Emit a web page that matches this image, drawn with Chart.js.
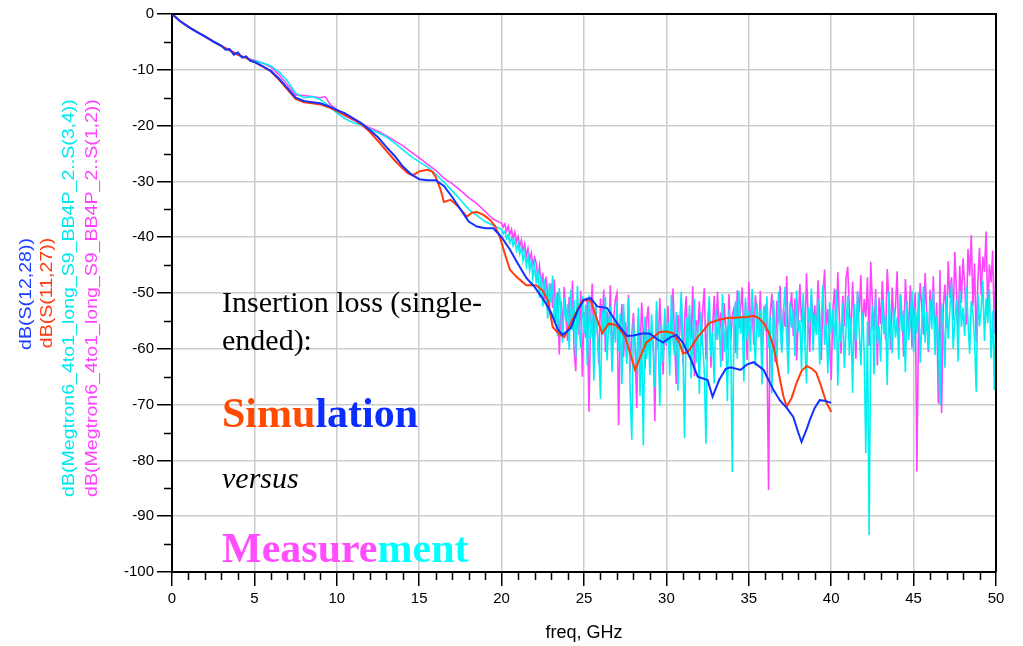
<!DOCTYPE html>
<html lang="en">
<head>
    <meta charset="UTF-8">
    <title>Insertion loss: simulation vs measurement</title>
    <script src="https://cdn.jsdelivr.net/npm/chart.js"></script>
    <style>
        body {
            margin: 0;
            background: #fff;
        }
        .wrap {
            position: relative;
            width: 1023px;
            height: 646px;
        }
        canvas {
            position: absolute;
            left: 0;
            top: 0;
        }
        /* rotated trace names on the left */
        .trace-name {
            position: absolute;
            font-family: 'Liberation Sans', Arial, sans-serif;
            font-size: 17px;
            line-height: 1;
            white-space: nowrap;
            transform: translate(-50%, -50%) rotate(-90deg) scaleX(1.15);
        }
        .note {
            position: absolute;
            left: 222px;
            font-family: 'Liberation Serif', 'Times New Roman', serif;
            color: #000;
            white-space: nowrap;
        }
        .note.plain { font-size: 30px; line-height: 30px; }
        .note.big { font-size: 42px; line-height: 42px; font-weight: bold; }
        .note.ital { font-style: italic; }
    </style>
</head>
<body>
<div class="wrap">
    <canvas id="ilChart" width="1023" height="646"></canvas>

    <div class="trace-name" style="left:25px; top:294px; color:#1a3cff;">dB(S(12,28))</div>
    <div class="trace-name" style="left:46px; top:293px; color:#ff3a10;">dB(S(11,27))</div>
    <div class="trace-name" style="left:68px; top:298px; color:#00e8ee;">dB(Megtron6_4to1_long_S9_BB4P_2..S(3,4))</div>
    <div class="trace-name" style="left:91px; top:298px; color:#ff40ff;">dB(Megtron6_4to1_long_S9_BB4P_2..S(1,2))</div>

    <div class="note plain" style="top:287px;">Insertion loss (single-</div>
    <div class="note plain" style="top:325px;">ended):</div>
    <div class="note big" style="top:392px;"><span style="color:#ff4a00;">Simu</span><span style="color:#0a2eff;">lation</span></div>
    <div class="note plain ital" style="top:463px;">versus</div>
    <div class="note big" style="top:527px;"><span style="color:#ff4dff;">Measure</span><span style="color:#00ffff;">ment</span></div>
</div>

<script>
    // Simulated traces (GHz, dB)
    const blueFreq = [0, 0.5, 1, 1.5, 2, 2.5, 3, 3.25, 3.5, 3.75, 4, 4.25, 4.5, 4.75, 5,
        5.5, 6, 6.5, 7, 7.5, 8, 8.5, 9, 9.5, 10, 10.5, 11, 11.5, 12, 12.5, 13, 13.5, 14, 14.5, 15,
        15.5, 16, 16.5, 17, 17.5, 18, 18.5, 19, 19.5, 20, 20.5, 21, 21.5, 22, 22.5, 23,
        23.4, 23.7, 24.2, 24.6, 25.0, 25.4, 25.8, 26.4, 27.0, 27.6, 28.0,
        28.6, 29.0, 29.4, 29.8, 30.2, 30.6, 31.0, 31.5, 31.9, 32.5, 32.8, 33.2, 33.6, 33.9,
        34.5, 34.9, 35.3, 35.9, 36.5, 36.9, 37.3, 37.7, 38.0, 38.2, 38.5, 38.7, 39.0, 39.3, 39.6, 40.0];
    const blueDb = [0, -1.3, -2.3, -3.2, -4.0, -4.9, -5.7, -6.4, -6.3, -7.3, -6.9, -7.8, -7.6, -8.4, -8.6,
        -9.4, -10.2, -11.6, -13.3, -15.0, -15.6, -15.8, -16.0, -16.5, -17.2, -17.8, -18.7, -19.6, -20.8, -22.1, -23.8, -25.4, -27.3, -28.7, -29.6,
        -29.8, -29.8, -30.8, -32.8, -35.0, -37.2, -38.1, -38.4, -38.4, -40.0, -42.2, -44.8, -47.3, -48.9, -51.0, -53.5,
        -56.5, -57.5, -56.3, -53.2, -51.2, -50.9, -52.4, -52.7, -55.4, -57.7, -57.6,
        -57.2, -57.3, -58.2, -58.9, -58.0, -57.5, -58.9, -62.0, -65.0, -65.6, -68.6, -65.6, -63.6, -63.3,
        -63.8, -62.8, -62.4, -63.8, -67.4, -69.3, -70.6, -72.2, -75.0, -76.7, -74.5, -72.8, -70.6, -69.2, -69.3, -69.7];

    const redFreq = [0, 0.5, 1, 1.5, 2, 2.5, 3, 3.5, 4, 4.5, 5, 5.5, 6, 6.5, 7, 7.5, 8, 8.5, 9, 9.5, 10, 10.5, 11, 11.5, 12,
        12.6, 13, 13.5, 14, 14.3, 14.6, 15.0, 15.5, 15.8, 16.0, 16.3, 16.5, 16.9, 17.3, 17.9, 18.2, 18.5, 18.9, 19.3, 19.6,
        19.9, 20.2, 20.5, 20.9, 21.5, 22.1, 22.5, 22.8, 23.1, 23.5, 23.8, 24.3, 24.9, 25.4, 25.8, 26.1, 26.5, 26.9, 27.2, 27.5,
        27.8, 28.1, 28.5, 28.8, 29.0, 29.6, 30.0, 30.4, 30.8, 31.0, 31.3, 31.6, 31.9, 32.3, 32.6, 33.2, 33.7, 34.3, 34.9, 35.3,
        35.6, 35.9, 36.2, 36.5, 36.7, 36.9, 37.1, 37.3, 37.6, 37.9, 38.2, 38.5, 38.8, 39.1, 39.4, 39.7, 40.0];
    const redDb = [0, -1.3, -2.3, -3.2, -4.0, -4.9, -5.7, -6.5, -7.3, -7.9, -8.6, -9.4, -10.3, -11.8, -13.5, -15.2, -15.8, -16.0, -16.2, -16.7, -17.4, -18.1, -18.9, -19.8, -21.1,
        -23.1, -24.5, -26.2, -27.7, -28.5, -28.9, -28.2, -27.9, -28.3, -29.2, -31.5, -33.7, -33.3, -34.3, -36.3, -35.6, -35.5, -36.0, -36.9, -38.0,
        -40.0, -43.0, -45.8, -47.1, -48.6, -48.6, -49.6, -51.3, -56.1, -57.4, -57.9, -54.8, -51.3, -51.3, -54.8, -57.2, -55.5, -55.7, -56.6, -57.9,
        -60.8, -63.8, -60.8, -58.8, -58.4, -57.0, -56.9, -57.2, -59.0, -60.8, -60.6, -59.3, -57.9, -56.5, -55.4, -54.8, -54.5, -54.4, -54.3, -54.1,
        -54.5, -55.4, -57.0, -59.7, -62.5, -65.6, -68.5, -70.4, -68.8, -66.1, -64.0, -63.1, -63.5, -64.3, -66.8, -69.6, -71.3];

    // Measured traces, low band (GHz, dB)
    const cyanLowFreq = [0, 0.5, 1, 1.5, 2, 2.5, 3, 3.5, 4, 4.5, 5, 5.5, 6, 6.5, 7, 7.5, 8, 8.5, 9, 9.5,
        10, 10.5, 11, 11.5, 12, 12.5, 13, 13.5, 14, 14.5, 15, 15.5, 16, 16.5, 17, 17.5, 18, 18.5, 19, 19.5, 20];
    const cyanLowDb = [0, -1.3, -2.3, -3.2, -4.1, -5.0, -5.8, -6.5, -7.3, -7.9, -8.4, -8.8, -9.3, -10.4, -12.0, -14.2, -15.0, -14.8, -15.3, -16.4,
        -17.7, -18.8, -19.5, -19.9, -20.6, -21.3, -22.0, -23.1, -24.3, -25.5, -26.5, -27.4, -28.7, -30.1, -31.7, -33.3, -35.0, -36.1, -37.2, -37.9, -38.6];

    const magLowFreq = [0, 0.5, 1, 1.5, 2, 2.5, 3, 3.5, 4, 4.5, 5, 5.5, 6, 6.5, 7, 7.5, 8, 8.5, 9, 9.3, 9.6,
        10, 10.5, 11, 11.5, 12, 12.5, 13, 13.5, 14, 14.5, 15, 15.5, 16, 16.5, 17, 17.5, 18, 18.5, 19, 19.5, 20];
    const magLowDb = [0, -1.3, -2.3, -3.2, -4.1, -5.0, -5.8, -6.5, -7.3, -7.9, -8.3, -8.8, -9.5, -10.9, -12.7, -14.5, -14.6, -14.8, -15.0, -14.8, -16.2,
        -17.2, -18.3, -19.0, -19.6, -20.4, -21.0, -21.8, -22.7, -23.6, -24.7, -25.8, -26.9, -28.0, -29.4, -30.4, -31.6, -32.9, -34.0, -35.4, -36.8, -37.5];

    // Measured traces, 20.1 .. 50.0 GHz sweep, 0.1 GHz step (one row per GHz)
    const sweepStart = 20.1;
    const sweepStep = 0.1;
    const cyanSweepDb = [
        -39.4, -38.9, -40.2, -39.6, -41.0, -40.1, -41.5, -40.6, -42.3, -41.2,
        -43.0, -41.8, -44.2, -42.7, -45.1, -43.3, -46.0, -44.2, -47.4, -45.0,
        -48.3, -45.6, -50.9, -46.8, -52.4, -47.5, -49.8, -54.6, -48.2, -51.7,
        -46.9, -55.3, -50.2, -57.8, -49.1, -53.6, -58.9, -50.8, -55.1, -52.0,
        -60.2, -49.4, -56.7, -51.3, -61.5, -48.7, -55.9, -59.8, -50.6, -57.3,
        -52.1, -63.0, -50.4, -58.2, -54.0, -65.7, -51.9, -56.8, -60.3, -69.0,
        -53.2, -57.5, -50.7, -62.1, -55.4, -52.3, -64.2, -54.8, -58.9, -51.6,
        -60.4, -53.7, -66.3, -52.0, -58.5, -62.7, -50.9, -67.8, -76.3, -55.1,
        -59.4, -63.9, -52.6, -68.4, -57.0, -77.3, -54.2, -61.8, -56.5, -64.7,
        -53.8, -60.1, -66.9, -51.5, -58.3, -70.2, -55.6, -62.4, -52.8, -59.0,
        -55.2, -64.8, -50.3, -58.6, -61.2, -53.4, -67.5, -56.1, -49.8, -59.7,
        -76.0, -54.5, -60.9, -52.2, -65.3, -57.8, -51.0, -62.6, -55.7, -68.1,
        -53.5, -59.2, -64.0, -77.0, -55.8, -50.6, -61.4, -57.1, -66.2, -52.9,
        -58.4, -54.7, -63.3, -50.2, -60.6, -55.9, -69.4, -53.1, -57.6, -82.1,
        -56.0, -51.4, -61.8, -49.6, -57.3, -54.1, -65.9, -50.8, -58.7, -53.2,
        -60.5, -49.3, -55.6, -63.1, -51.8, -57.9, -53.0, -66.4, -52.4, -56.8,
        -50.6, -59.8, -54.3, -68.0, -51.2, -57.4, -62.9, -49.8, -55.5, -60.7,
        -53.6, -48.9, -58.1, -64.5, -51.7, -56.2, -52.8, -61.3, -49.5, -57.0,
        -54.9, -63.7, -50.1, -58.8, -66.2, -52.6, -55.3, -49.2, -60.4, -53.8,
        -57.5, -51.1, -62.8, -54.6, -48.6, -59.3, -55.8, -64.4, -51.6, -57.2,
        -53.0, -60.1, -49.4, -66.6, -55.2, -58.9, -51.8, -63.5, -56.4, -50.5,
        -61.2, -54.3, -67.9, -52.0, -58.6, -49.9, -56.7, -63.0, -53.5, -60.4,
        -78.7, -55.1, -93.4, -57.8, -52.3, -64.6, -50.8, -59.1, -55.9, -62.3,
        -51.2, -57.4, -53.8, -66.5, -49.7, -56.3, -60.8, -52.6, -58.0, -54.4,
        -61.9, -50.3, -56.9, -53.1, -64.2, -51.5, -58.4, -55.0, -49.6, -60.6,
        -52.7, -57.2, -50.0, -62.5, -55.6, -48.8, -58.9, -53.4, -60.2, -51.3,
        -56.5, -49.7, -61.1, -54.2, -57.8, -70.1, -51.9, -55.3, -63.4, -50.4,
        -58.2, -53.0, -48.3, -60.0, -54.8, -51.2, -62.3, -49.5, -56.1, -52.6,
        -57.7, -48.9, -55.0, -60.9, -51.4, -53.8, -58.4, -67.7, -50.2, -56.0,
        -52.9, -47.8, -58.6, -51.0, -55.4, -49.3, -61.7, -53.2, -67.4, -48.5
    ];
    const magSweepDb = [
        -38.2, -37.6, -38.9, -38.0, -39.5, -38.6, -40.3, -39.1, -40.8, -39.9,
        -41.6, -40.5, -42.4, -41.2, -43.3, -42.0, -44.1, -42.8, -45.0, -43.6,
        -44.6, -47.3, -45.2, -49.0, -46.4, -51.5, -47.1, -50.2, -53.0, -48.3,
        -52.7, -47.6, -55.2, -49.8, -61.0, -51.4, -56.7, -48.9, -53.8, -58.6,
        -50.7, -55.9, -47.8, -60.3, -64.0, -52.2, -57.5, -49.6, -65.0, -53.4,
        -58.0, -50.8, -71.3, -54.6, -48.3, -59.7, -52.5, -56.2, -62.8, -51.0,
        -55.8, -49.4, -60.6, -53.3, -57.1, -48.6, -63.2, -54.7, -51.2, -50.0,
        -73.7, -56.4, -52.0, -61.5, -55.2, -58.9, -50.3, -64.1, -57.4, -53.6,
        -59.8, -70.6, -54.1, -60.7, -51.7, -57.3, -63.6, -55.0, -52.4, -61.2,
        -56.9, -58.8, -73.0, -53.2, -60.0, -50.9, -57.8, -64.6, -54.4, -59.5,
        -52.3, -61.4, -55.7, -49.2, -59.0, -66.3, -53.9, -57.6, -51.1, -62.7,
        -55.0, -50.6, -60.5, -53.7, -58.2, -48.8, -64.9, -54.9, -57.0, -51.5,
        -59.6, -53.1, -49.1, -61.9, -55.4, -52.0, -63.4, -56.6, -50.5, -58.3,
        -49.8, -57.2, -53.5, -62.2, -51.8, -55.9, -60.1, -50.2, -58.8, -54.0,
        -52.7, -60.8, -49.5, -56.3, -53.0, -49.0, -58.5, -51.6, -62.0, -48.0,
        -55.1, -51.9, -59.3, -50.4, -53.7, -57.9, -49.6, -61.6, -54.2, -52.1,
        -58.6, -85.3, -53.6, -50.1, -56.8, -62.4, -51.4, -55.5, -48.7, -59.9,
        -52.8, -56.1, -46.9, -60.2, -53.2, -49.9, -57.7, -51.0, -62.1, -54.6,
        -48.4, -55.3, -51.6, -58.7, -46.5, -53.9, -60.6, -50.3, -55.8, -52.2,
        -57.0, -47.7, -54.5, -62.0, -50.7, -45.8, -56.4, -52.9, -59.2, -65.6,
        -53.1, -49.2, -57.6, -46.3, -54.8, -60.9, -50.5, -56.0, -47.4, -45.3,
        -52.6, -58.1, -48.0, -55.2, -61.8, -49.7, -53.4, -46.8, -57.3, -51.1,
        -54.3, -47.2, -59.5, -44.4, -52.0, -56.7, -49.3, -63.0, -50.8, -55.6,
        -47.9, -53.8, -58.4, -45.7, -51.3, -60.2, -49.0, -55.4, -52.6, -46.1,
        -57.9, -50.2, -54.0, -61.4, -47.5, -52.9, -56.2, -48.6, -59.8, -53.5,
        -50.0, -82.0, -55.0, -48.2, -52.8, -57.5, -46.4, -53.9, -60.6, -49.4,
        -54.7, -47.0, -59.1, -51.7, -69.8, -45.9, -71.5, -52.3, -48.5, -56.2,
        -44.3, -50.9, -47.2, -54.8, -42.6, -49.5, -57.4, -45.1, -51.8, -43.8,
        -48.6, -55.7, -42.1, -46.9, -39.6, -52.4, -44.7, -58.9, -47.8, -41.9,
        -50.4, -43.5, -46.2, -39.0, -53.6, -44.9, -48.1, -42.4, -57.3, -44.0
    ];

    // Axis ranges and ticks
    const xTicks = [0, 5, 10, 15, 20, 25, 30, 35, 40, 45, 50];
    const yTicks = [0, -10, -20, -30, -40, -50, -60, -70, -80, -90, -100];

    function pairs(freq, db) {
        return freq.map((f, i) => ({ x: f, y: db[i] }));
    }

    function sweepPairs(db) {
        return db.map((v, i) => ({ x: +(sweepStart + i * sweepStep).toFixed(1), y: v }));
    }

    const cyanData = pairs(cyanLowFreq, cyanLowDb).concat(sweepPairs(cyanSweepDb));
    const magData = pairs(magLowFreq, magLowDb).concat(sweepPairs(magSweepDb));

    // minor ticks plus the top/right frame lines
    const frameAndMinor = {
        id: 'frameAndMinor',
        afterDraw(chart) {
            const { ctx, chartArea, scales } = chart;
            const x = scales.x, y = scales.y;
            ctx.save();
            ctx.strokeStyle = '#000';
            ctx.lineWidth = 1.5;
            ctx.beginPath();
            for (let f = xTicks[0] + 1; f < xTicks[xTicks.length - 1]; f++) {
                if (f % 5 === 0) continue;
                const px = Math.round(x.getPixelForValue(f)) + 0.5;
                ctx.moveTo(px, chartArea.bottom);
                ctx.lineTo(px, chartArea.bottom + 8);
            }
            for (let d = -95; d < 0; d += 10) {
                const py = Math.round(y.getPixelForValue(d)) + 0.5;
                ctx.moveTo(chartArea.left - 8, py);
                ctx.lineTo(chartArea.left, py);
            }
            ctx.stroke();

            ctx.lineWidth = 2;
            ctx.beginPath();
            ctx.moveTo(chartArea.left, chartArea.top);
            ctx.lineTo(chartArea.right, chartArea.top);
            ctx.lineTo(chartArea.right, chartArea.bottom);
            ctx.stroke();
            ctx.restore();
        }
    };

    const tickFont = { family: "'Liberation Sans', Arial, sans-serif", size: 15 };

    new Chart(document.getElementById('ilChart'), {
        type: 'line',
        data: {
            datasets: [
                { label: 'dB(S(12,28))', data: pairs(blueFreq, blueDb), borderColor: '#1432ff', borderWidth: 2, order: 1 },
                { label: 'dB(S(11,27))', data: pairs(redFreq, redDb), borderColor: '#ff3c0a', borderWidth: 2, order: 2 },
                { label: 'dB(Megtron6_4to1_long_S9_BB4P_2..S(3,4))', data: cyanData, borderColor: '#00f0f2', borderWidth: 1.6, order: 3 },
                { label: 'dB(Megtron6_4to1_long_S9_BB4P_2..S(1,2))', data: magData, borderColor: '#ff44ff', borderWidth: 1.6, order: 4 }
            ]
        },
        options: {
            responsive: false,
            animation: false,
            parsing: false,
            elements: {
                point: { radius: 0 },
                line: { tension: 0, fill: false }
            },
            layout: { padding: { top: 14, right: 27, left: 0, bottom: 0 } },
            plugins: {
                legend: { display: false },
                tooltip: { enabled: false }
            },
            scales: {
                x: {
                    type: 'linear',
                    min: 0,
                    max: 50,
                    afterBuildTicks(scale) { scale.ticks = xTicks.map(v => ({ value: v })); },
                    ticks: { font: tickFont, color: '#000', padding: 4, maxRotation: 0, autoSkip: false },
                    grid: { color: '#cccccc', lineWidth: 1.5, tickColor: '#000', tickLength: 14, tickWidth: 1.5 },
                    border: { color: '#000', width: 2 },
                    title: {
                        display: true,
                        text: 'freq, GHz',
                        color: '#000',
                        font: { family: "'Liberation Sans', Arial, sans-serif", size: 18 },
                        padding: { top: 0, bottom: 2 }
                    },
                    afterFit(scale) { scale.height = 74; }
                },
                y: {
                    type: 'linear',
                    min: -100,
                    max: 0,
                    afterBuildTicks(scale) { scale.ticks = yTicks.map(v => ({ value: v })); },
                    ticks: { font: tickFont, color: '#000', padding: 3 },
                    grid: { color: '#cccccc', lineWidth: 1.5, tickColor: '#000', tickLength: 15, tickWidth: 1.5 },
                    border: { color: '#000', width: 2 },
                    afterFit(scale) { scale.width = 172; }
                }
            }
        },
        plugins: [frameAndMinor]
    });
</script>
</body>
</html>
